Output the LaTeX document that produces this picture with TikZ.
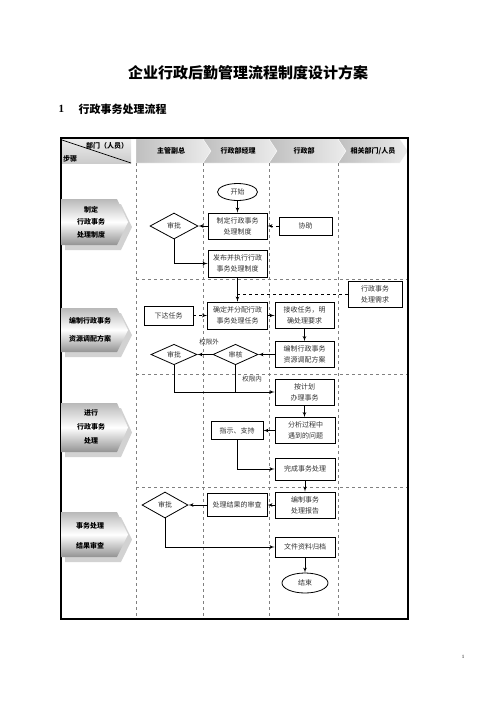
\documentclass[tikz,border=0pt]{standalone}
\usepackage{fontspec}
\setmainfont{Liberation Serif}
\newfontfamily\cjk{Noto Sans CJK SC}
\usetikzlibrary{arrows,shapes.geometric}

\begin{document}
\begin{tikzpicture}[x=1pt,y=-1pt]

		\tikzset{box/.style = {shape=rectangle,draw,line width=0.8pt,minimum width=59pt,minimum height=26pt,inner sep=1pt,align=center,text=black!80,font=\cjk\fontsize{7}{11}\selectfont}}
		\tikzset{judge/.style = {shape=diamond,draw,line width=0.8pt,minimum width=48pt,minimum height=26pt,inner sep=0pt,text=black!80,font=\cjk\fontsize{7}{9}\selectfont}}
		\tikzset{term/.style = {shape=ellipse,draw,line width=0.8pt,inner sep=0pt,text=black!80,font=\cjk\fontsize{7}{9}\selectfont}}
		\tikzset{edge/.style = {->,> = latex',line width=0.7pt}}
		\tikzset{lane/.style = {draw=gray,dashed,line width=0.6pt}}
		\tikzset{note/.style = {text=black!80,font=\cjk\fontsize{6.5}{8}\selectfont}}
		\tikzset{head/.style = {font=\cjk\bfseries\fontsize{7}{9}\selectfont}}
		\tikzset{steptext/.style = {align=center,font=\cjk\bfseries\fontsize{7}{12.5}\selectfont}}

		\useasboundingbox (0,0) rectangle (496,702);

		% title
		\node[font=\cjk\bfseries\fontsize{15}{18}\selectfont] (title) at (248,73) {企业行政后勤管理流程制度设计方案};
		\node[anchor=west,font=\bfseries\fontsize{11}{13}\selectfont] (secno) at (55,109) {1};
		\node[anchor=west,font=\cjk\bfseries\fontsize{11}{13}\selectfont] (sec) at (75,109) {行政事务处理流程};

		% header
		\shade[top color=gray!15,bottom color=gray!40] (62,139) rectangle (131,163);
		\draw[line width=0.7pt] (62,140) -- (131,163);
		\node[head] (dept) at (107,146) {部门（人员）};
		\node[head] (stage) at (70,159) {步骤};
		\shade[left color=gray!50,right color=gray!15,draw=white] (136,139) -- (203,139) -- (211,151) -- (203,163) -- (136,163) -- cycle;
		\foreach \xl/\xr in {203/269,269/338,338/400}
			\shade[left color=gray!50,right color=gray!15,draw=white] (\xl,139) -- (\xr,139) -- (\xr+8,151) -- (\xr,163) -- (\xl,163) -- (\xl+8,151) -- cycle;
		\node[head] (vp) at (171,151) {主管副总};
		\node[head] (mgr) at (238,151) {行政部经理};
		\node[head] (office) at (304,151) {行政部};
		\node[head] (others) at (373,151) {相关部门/人员};

		% frame and lanes
		\foreach \x in {136,203,269,338}
			\draw[lane] (\x,163) -- (\x,619);
		\foreach \y in {279,374,487}
			\draw[lane] (136,\y) -- (408,\y);
		\draw[line width=1.1pt] (61,138) rectangle (408,619);

		% steps
		\foreach \yt/\yb in {199/245,308/352,403/452,512/557}{
			\fill[gray!35] (65,\yt+5) -- (121,\yt+5) -- (132,{(\yt+\yb)/2+5}) -- (121,\yb+5) -- (65,\yb+5) -- cycle;
			\shade[top color=gray!55,bottom color=gray!85,middle color=white] (61,\yt) -- (117,\yt) -- (128,{(\yt+\yb)/2}) -- (117,\yb) -- (61,\yb) -- cycle;
		}
		\node[steptext] (step1) at (91,222) {制定\\行政事务\\处理制度};
		\node[steptext,font=\cjk\bfseries\fontsize{7}{18}\selectfont] (step2) at (90,330) {编制行政事务\\资源调配方案};
		\node[steptext,font=\cjk\bfseries\fontsize{7}{14}\selectfont] (step3) at (91,427) {进行\\行政事务\\处理};
		\node[steptext,font=\cjk\bfseries\fontsize{7}{20}\selectfont] (step4) at (90,536) {事务处理\\结果审查};

		% flow nodes
		\node[term,minimum width=40pt,minimum height=17pt] (start) at (237.5,192) {开始};
		\node[box] (draft) at (237.5,226) {制定行政事务\\处理制度};
		\node[judge] (approve1) at (174,226) {审批};
		\node[box,minimum width=53pt,minimum height=18pt] (assist) at (305.5,226) {协助};
		\node[box,minimum height=27pt] (issue) at (237.5,263.5) {发布并执行行政\\事务处理制度};
		\node[box,minimum width=54pt] (demand) at (375,294) {行政事务\\处理需求};
		\node[box,minimum width=49pt,minimum height=19pt] (assign) at (168.5,315.5) {下达任务};
		\node[box,minimum width=60pt,minimum height=27pt] (allot) at (237.5,315.5) {确定并分配行政\\事务处理任务};
		\node[box] (receive) at (304.5,315.5) {接收任务，明\\确处理要求};
		\node[box] (plan) at (304.5,354.5) {编制行政事务\\资源调配方案};
		\node[judge,minimum width=45pt,minimum height=20pt] (check) at (235.5,354.5) {审核};
		\node[judge,minimum width=46pt,minimum height=20pt] (approve2) at (174,354.5) {审批};
		\node[box] (execute) at (304.5,392) {按计划\\办理事务};
		\node[box,minimum width=60pt] (analyse) at (305.5,430.5) {分析过程中\\遇到的问题};
		\node[box,minimum width=52pt,minimum height=18pt] (guide) at (237,430.5) {指示、支持};
		\node[box,minimum width=60pt,minimum height=22pt] (finish) at (305,469) {完成事务处理};
		\node[box,minimum width=60pt] (report) at (305,505) {编制事务\\处理报告};
		\node[box,minimum width=60pt,minimum height=23pt] (review) at (237,505) {处理结果的审查};
		\node[judge,minimum width=46pt,minimum height=26pt] (approve3) at (165,505) {审批};
		\node[box,minimum width=60pt,minimum height=20pt] (archive) at (305,547) {文件资料归档};
		\node[term,minimum width=46pt,minimum height=20pt] (end) at (305,583) {结束};

		% labels
		\node[note] (outside) at (209,342) {权限外};
		\node[note] (inside) at (252,379) {权限内};
		\node[font=\fontsize{5}{6}\selectfont] (pageno) at (463,657) {1};

		% edges
		\draw[edge] (start) -- (draft);
		\draw[edge] (draft) -- (approve1);
		\draw[edge,dashed] (assist) -- (draft);
		\draw[edge] (approve1) |- (issue);
		\draw[edge] (issue) -- (allot);
		\draw[dashed,line width=0.7pt] (demand.west) -| (allot.north);
		\draw[edge,dashed] (assign) -- (allot);
		\draw[edge] (allot) -- (receive);
		\draw[edge] (receive) -- (plan);
		\draw[edge] (plan) -- (check);
		\draw[edge] (check) -- (approve2);
		\draw[edge] (approve2) |- (execute);
		\draw[line width=0.7pt] (check) -- (check |- execute);
		\draw[edge] (execute.south) -- (execute.south |- analyse.north);
		\draw[edge] (analyse) -- (guide);
		\draw[edge] (guide) |- (finish);
		\draw[edge] (finish) -- (report);
		\draw[edge] (report) -- (review);
		\draw[edge] (review) -- (approve3);
		\draw[edge] (approve3) |- (archive);
		\draw[edge] (archive) -- (end);

\end{tikzpicture}
\end{document}
